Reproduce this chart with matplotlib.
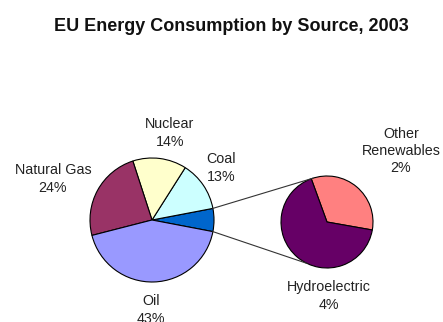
import numpy as np
import matplotlib.pyplot as plt

W, H = 443, 322

# main pie, counter-clockwise from the "other" wedge on the right
main_labels = ['', 'Coal', 'Nuclear', 'Natural Gas', 'Oil']
main_values = [6, 13, 14, 24, 43]
main_colors = ['#0066CC', '#CCFFFF', '#FFFFCC', '#993366', '#9999FF']

# breakout of the "other" wedge
sub_labels = ['Other\nRenewables', 'Hydroelectric']
sub_values = [2, 4]
sub_colors = ['#FF8080', '#660066']

fig = plt.figure(figsize=(W / 100, H / 100), dpi=100)
ax = fig.add_axes([0, 0, 1, 1])

main_c = (152, H - 220)
main_r = 62
sub_c = (327, H - 222)
sub_r = 46

wedge = dict(edgecolor='black', linewidth=0.8)
other_half = main_values[0] / sum(main_values) * 360 / 2
ax.pie(main_values, colors=main_colors, center=main_c, radius=main_r,
       startangle=-other_half, counterclock=True, wedgeprops=wedge)

sub_start = -10
ax.pie(sub_values, colors=sub_colors, center=sub_c, radius=sub_r,
       startangle=sub_start, counterclock=True, wedgeprops=wedge)

# connector lines from the "other" wedge to the breakout pie
def on_circle(c, r, deg):
    a = np.deg2rad(deg)
    return c[0] + r * np.cos(a), c[1] + r * np.sin(a)

for a_main, a_sub in [(other_half, 108), (-other_half, 244)]:
    x0, y0 = on_circle(main_c, main_r, a_main)
    x1, y1 = on_circle(sub_c, sub_r, a_sub)
    ax.plot([x0, x1], [y0, y1], color='#333333', linewidth=0.8)

label_pos = {
    'Coal': (221, 168),
    'Nuclear': (170, 133),
    'Natural Gas': (53, 179),
    'Oil': (151, 310),
    'Other\nRenewables': (401, 151),
    'Hydroelectric': (329, 296),
}
for lab, val in zip(main_labels + sub_labels, main_values + sub_values):
    if not lab:
        continue
    x, y = label_pos[lab]
    ax.text(x, H - y, f'{lab}\n{val}%', ha='center', va='center',
            fontsize=10.3, family=['Liberation Sans', 'DejaVu Sans'],
            color='#222222', linespacing=1.3)

ax.text(231, H - 26, 'EU Energy Consumption by Source, 2003', ha='center',
        va='center', fontsize=13, fontweight='bold',
        family=['Liberation Sans', 'DejaVu Sans'], color='#111111')

ax.set_xlim(0, W)
ax.set_ylim(0, H)
ax.set_aspect('auto')
ax.axis('off')

fig.savefig('out.png', dpi=100, facecolor='white')
